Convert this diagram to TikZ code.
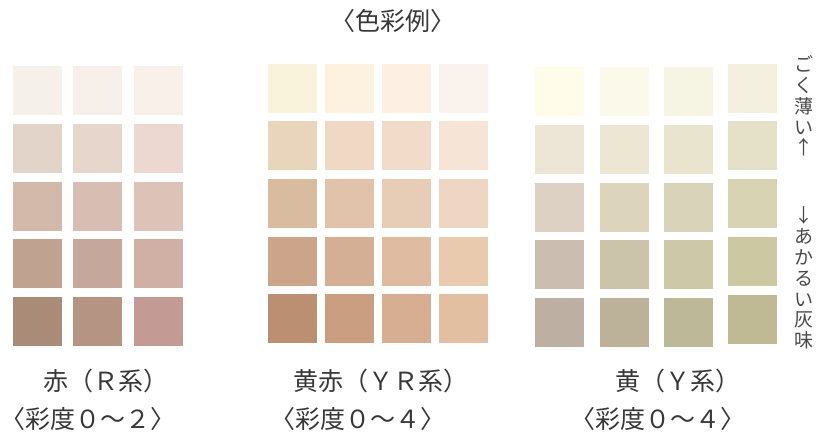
\documentclass[tikz,border=0pt]{standalone}
\usepackage{fontspec}
\newfontfamily\jp{Noto Sans CJK JP}
\definecolor{txt}{HTML}{383838}
\definecolor{vtxt}{HTML}{4A4A4A}
% Grid A (R)
\definecolor{A11}{HTML}{F5F0EA}\definecolor{A12}{HTML}{F7EFE9}\definecolor{A13}{HTML}{FAF0EA}
\definecolor{A21}{HTML}{E2D4C8}\definecolor{A22}{HTML}{E6D6CC}\definecolor{A23}{HTML}{ECD7D1}
\definecolor{A31}{HTML}{D3B9A9}\definecolor{A32}{HTML}{D8BDB2}\definecolor{A33}{HTML}{DDC2B8}
\definecolor{A41}{HTML}{BFA390}\definecolor{A42}{HTML}{C6A79B}\definecolor{A43}{HTML}{D0AFA5}
\definecolor{A51}{HTML}{AA8B78}\definecolor{A52}{HTML}{B69484}\definecolor{A53}{HTML}{C49A94}
% Grid B (YR)
\definecolor{B11}{HTML}{FAF3DC}\definecolor{B12}{HTML}{FDF2E0}\definecolor{B13}{HTML}{FDEFE2}\definecolor{B14}{HTML}{FAF2EC}
\definecolor{B21}{HTML}{E8D5BB}\definecolor{B22}{HTML}{F0D8C5}\definecolor{B23}{HTML}{F3DBCA}\definecolor{B24}{HTML}{F6E4D7}
\definecolor{B31}{HTML}{D9BBA0}\definecolor{B32}{HTML}{E0C3AA}\definecolor{B33}{HTML}{E8CDB6}\definecolor{B34}{HTML}{EFD5C3}
\definecolor{B41}{HTML}{CBA48A}\definecolor{B42}{HTML}{D4AF95}\definecolor{B43}{HTML}{DFBBA2}\definecolor{B44}{HTML}{E9CAAF}
\definecolor{B51}{HTML}{BA8F72}\definecolor{B52}{HTML}{CA9F81}\definecolor{B53}{HTML}{D7AE91}\definecolor{B54}{HTML}{E2BFA1}
% Grid C (Y)
\definecolor{C11}{HTML}{FFFCE9}\definecolor{C12}{HTML}{FBFAEA}\definecolor{C13}{HTML}{F6F4E3}\definecolor{C14}{HTML}{F3F0DF}
\definecolor{C21}{HTML}{EDE6D6}\definecolor{C22}{HTML}{EDE6D3}\definecolor{C23}{HTML}{E9E4CD}\definecolor{C24}{HTML}{E5E0C8}
\definecolor{C31}{HTML}{DDD1C3}\definecolor{C32}{HTML}{DCD4BD}\definecolor{C33}{HTML}{D9D3B9}\definecolor{C34}{HTML}{D8D3B3}
\definecolor{C41}{HTML}{CBBEB0}\definecolor{C42}{HTML}{CBC3AA}\definecolor{C43}{HTML}{CCC8A8}\definecolor{C44}{HTML}{CCC8A2}
\definecolor{C51}{HTML}{BDAFA2}\definecolor{C52}{HTML}{BCB29A}\definecolor{C53}{HTML}{BDB897}\definecolor{C54}{HTML}{BFBA93}
\begin{document}
\begin{tikzpicture}[x=1pt,y=-1pt,
  swatch/.style={inner sep=0pt, outer sep=0pt, minimum width=49pt, minimum height=49pt, anchor=north west},
  lbl/.style={font=\jp\fontsize{25}{25}\selectfont, text=txt, inner sep=0pt},
  title/.style={font=\jp\fontsize{25}{25}\selectfont, text=txt, inner sep=0pt},
  vert/.style={font=\jp\fontsize{19}{20.8}\selectfont, text=vtxt, inner sep=0pt, align=center}]
\useasboundingbox[fill=white] (0,0) rectangle (822,434);
% Grid A
\foreach \c/\x in {1/13,2/73,3/134}
  \foreach \r/\y in {1/66,2/124,3/182,4/239,5/297}
    \node[swatch, fill=A\r\c] (a\r\c) at (\x,\y) {};
% Grid B
\foreach \c/\x in {1/268,2/325,3/382,4/439}
  \foreach \r/\y in {1/64,2/121,3/179,4/237,5/294}
    \node[swatch, fill=B\r\c] (b\r\c) at (\x,\y) {};
% Grid C
\foreach \c/\x in {1/535,2/600,3/664}
  \foreach \r/\y in {1/67,2/125,3/183,4/240,5/298}
    \node[swatch, fill=C\r\c] (c\r\c) at (\x,\y) {};
\foreach \r/\y in {1/64,2/121,3/179,4/237,5/295}
  \node[swatch, fill=C\r4] (c\r4) at (728,\y) {};
% texts
\node[title] (t) at (393,21) {〈色彩例〉};
\node[lbl] (la1) at (106,381) {赤（Ｒ系）};
\node[lbl] (la2) at (88,419) {〈彩度０～２〉};
\node[lbl] (lb1) at (381,381) {黄赤（ＹＲ系）};
\node[lbl] (lb2) at (358,419) {〈彩度０～４〉};
\node[lbl] (lc1) at (678,381) {黄（Ｙ系）};
\node[lbl] (lc2) at (658,419) {〈彩度０～４〉};
\node[vert] (v1) at (804,106) {ご\\く\\薄\\い\\↑};
\node[vert] (v2) at (804,278) {↓\\あ\\か\\る\\い\\灰\\味};
\end{tikzpicture}
\end{document}
